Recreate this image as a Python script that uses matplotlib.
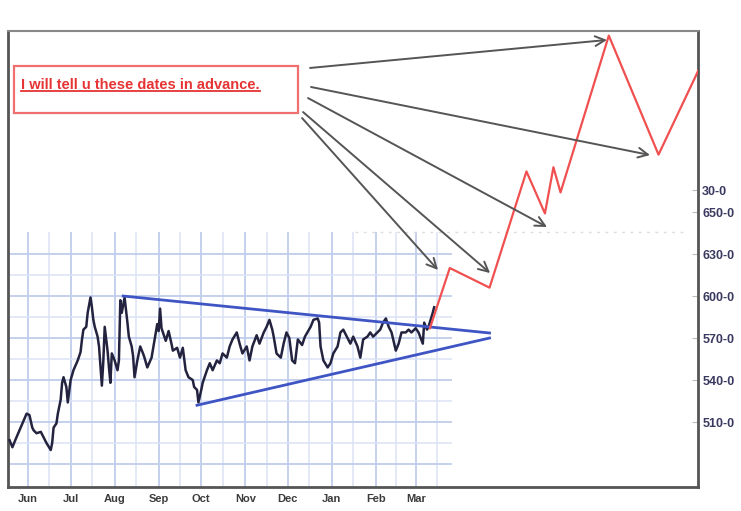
import numpy as np
import matplotlib.pyplot as plt
from matplotlib.patches import Rectangle

# price history (days from Jun 1, close)
days = [-13, -11, -9, -4, -2, -1, 1, 3, 4, 6, 9, 11, 13, 16, 17, 18, 20, 21, 23, 24,
        25, 27, 28, 30, 32, 35, 37, 38, 39, 41, 42, 44, 45, 46, 47, 49, 50, 51, 52, 53,
        54, 56, 57, 58, 59, 61, 63, 64, 65, 66, 68, 69, 70, 71, 73, 74, 75, 77, 79, 81,
        82, 84, 87, 89, 91, 92, 93, 94, 97, 99, 101, 102, 105, 107, 109, 111, 113, 116, 117, 119,
        120, 122, 123, 126, 128, 130, 133, 135, 137, 140, 142, 144, 147, 149, 151, 154, 156, 158, 161, 163,
        166, 168, 170, 172, 173, 175, 178, 180, 182, 184, 186, 188, 190, 193, 195, 199, 201, 204, 205, 206,
        208, 211, 213, 215, 218, 220, 222, 225, 227, 229, 232, 234, 236, 239, 241, 243, 246, 248, 250, 252,
        254, 256, 259, 261, 263, 266, 268, 270, 273, 275, 278, 279, 281, 282, 285, 286]
price = [497, 492, 497, 509, 514, 516, 515, 506, 504, 502, 503, 499, 495, 490, 495, 506, 509, 516, 526, 538,
         542, 535, 524, 540, 547, 554, 560, 569, 576, 578, 588, 599, 592, 583, 578, 571, 564, 550, 536, 553,
         578, 561, 549, 538, 559, 554, 547, 554, 597, 588, 599, 590, 581, 571, 564, 557, 542, 554, 564, 559,
         556, 549, 556, 568, 580, 575, 591, 577, 568, 575, 566, 561, 563, 556, 563, 547, 542, 540, 535, 533,
         524, 533, 538, 547, 552, 547, 554, 552, 559, 556, 564, 569, 574, 566, 559, 564, 554, 564, 572, 566,
         574, 578, 583, 576, 571, 559, 556, 566, 574, 570, 554, 552, 569, 565, 571, 578, 583, 584, 581, 564,
         554, 549, 552, 559, 564, 574, 576, 570, 566, 571, 564, 556, 569, 571, 574, 571, 574, 576, 581, 584,
         578, 574, 561, 566, 574, 574, 576, 574, 577, 574, 566, 581, 576, 578, 588, 592]

# red projected path
proj_days = [283, 297, 325, 351, 364, 370, 375, 409, 444, 472]
proj_price = [577, 620, 606, 689, 659, 692, 674, 786, 701, 761]

# triangle trend lines
upper_days = [67, 325]
upper_price = [600, 573.6]
lower_days = [119, 325]
lower_price = [522, 570]

month_days = [0, 30, 61, 92, 122, 153, 183, 214, 245, 273]
month_labels = ['Jun', 'Jul', 'Aug', 'Sep', 'Oct', 'Nov', 'Dec', 'Jan', 'Feb', 'Mar']
ytick_vals = [510, 540, 570, 600, 630, 660, 675.5]
ytick_labels = ['510-0', '540-0', '570-0', '600-0', '630-0', '650-0', '30-0']

# arrows: (start day, start price) -> (end day, end price)
arrow_start = [(198.6, 762.9), (199.3, 749.3), (197.2, 741.4), (193.7, 731.4), (193.0, 727.1)]
arrow_end = [(407.7, 782.9), (438.0, 700.7), (365.5, 649.3), (325.4, 616.4), (288.7, 618.6)]

narrow = ['Liberation Sans Narrow', 'Liberation Sans', 'DejaVu Sans']

fig = plt.figure(figsize=(7.41, 5.11), dpi=100)
ax = fig.add_axes([8/741, 24/511, 690/741, 456/511])
ax.set_xlim(-14.1, 471.8)
ax.set_ylim(463.6, 789.3)

# light blue grid in the lower-left block
half_month = [15, 45, 76, 107, 137, 168, 198, 229, 259, 288]
ax.vlines(half_month, 460, 645.7, colors='#dbe3f5', lw=1.1, zorder=1)
ax.vlines(month_days, 460, 645.7, colors='#c0cdec', lw=1.3, zorder=1)
ax.hlines(np.arange(495, 631, 30), -14.1, 298.6, colors='#dbe3f5', lw=1.1, zorder=1)
ax.hlines(np.arange(480, 631, 30), -14.1, 298.6, colors='#c0cdec', lw=1.3, zorder=1)
ax.hlines([645.7], 230, 465, colors='#dddddd', lw=1, linestyles=(0, (2, 4)), zorder=1)

ax.plot(days, price, color='#23233f', lw=1.8, zorder=3)
ax.plot(upper_days, upper_price, color='#3f55c4', lw=2, zorder=4)
ax.plot(lower_days, lower_price, color='#3f55c4', lw=2, zorder=4)
ax.plot(proj_days, proj_price, color='#f05050', lw=1.6, zorder=4)

for s, e in zip(arrow_start, arrow_end):
    ax.annotate('', xy=e, xytext=s,
                arrowprops=dict(arrowstyle='->,head_length=0.7,head_width=0.35',
                                color='#555555', lw=1.4, shrinkA=0, shrinkB=0), zorder=5)

ax.add_patch(Rectangle((-9.9, 730.7), 200, 33.6, fill=False, ec='#f07070', lw=1.6, zorder=5))
txt = ax.text(-4.9, 751, 'I will tell u these dates in advance.', color='#e63333',
              fontsize=10.5, fontweight='bold', va='center', ha='left',
              family=narrow, zorder=6)

ax.yaxis.tick_right()
ax.set_yticks(ytick_vals, labels=ytick_labels)
ax.tick_params(axis='y', length=4, color='#bbbbbb', direction='in', labelsize=9,
               labelcolor='#3a3a60', pad=3)
ax.set_xticks(month_days, labels=month_labels)
ax.tick_params(axis='x', length=0, labelsize=8, labelcolor='#3c3c3c', pad=5)
for lab in ax.get_xticklabels() + ax.get_yticklabels():
    lab.set_family(narrow)
    lab.set_fontweight('bold')

for side in ['left', 'bottom', 'right']:
    ax.spines[side].set_color('#555555')
    ax.spines[side].set_linewidth(2)
ax.spines['top'].set_color('#888888')
ax.spines['top'].set_linewidth(1.5)

# underline the note
fig.canvas.draw()
bb = txt.get_window_extent().transformed(ax.transData.inverted())
ax.plot([bb.x0, bb.x1], [bb.y0 + 0.3, bb.y0 + 0.3], color='#e63333', lw=1.3, zorder=6)

fig.savefig('out.png', dpi=100, facecolor='white')
